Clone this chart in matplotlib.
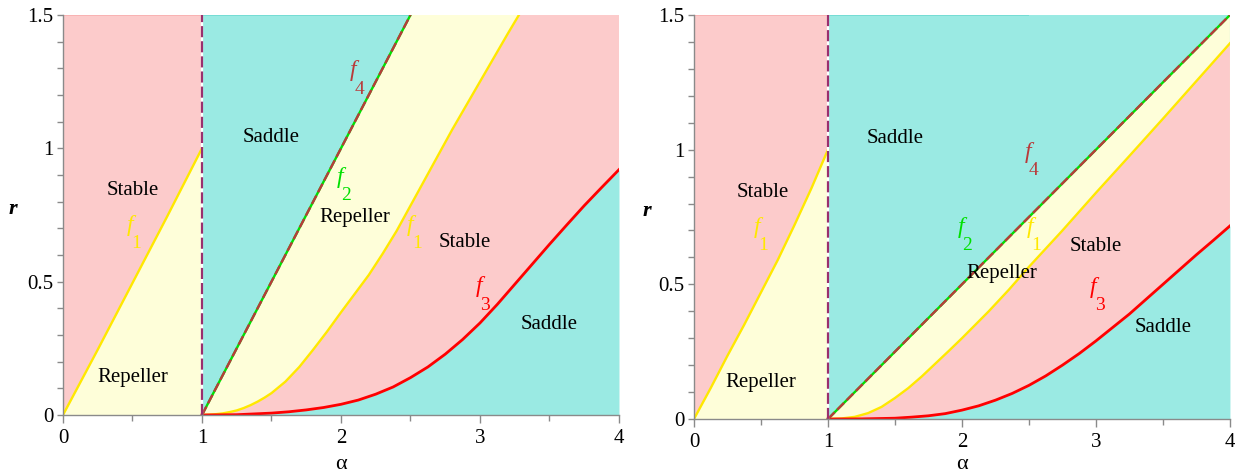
import numpy as np
import matplotlib.pyplot as plt
from matplotlib.ticker import MultipleLocator

SERIF = 'Liberation Serif'
plt.rcParams['font.family'] = SERIF

# bifurcation curves r = f(alpha), first case
left_f1_lo_a = [0, 0.25, 0.5, 0.75, 1.0]
left_f1_lo_r = [0, 0.245, 0.495, 0.745, 1.0]
left_f1_hi_a = [1.0, 1.05, 1.1, 1.15, 1.2, 1.25, 1.3, 1.35, 1.4, 1.45, 1.5, 1.6, 1.7, 1.8, 1.9,
                2.0, 2.1, 2.2, 2.3, 2.4, 2.5, 2.6, 2.7, 2.8, 2.9, 3.0, 3.1, 3.2, 3.28]
left_f1_hi_r = [0, 0.001, 0.003, 0.006, 0.011, 0.017, 0.026, 0.037, 0.05, 0.065, 0.082, 0.125, 0.18,
                0.245, 0.313, 0.385, 0.455, 0.525, 0.605, 0.69, 0.785, 0.88, 0.975, 1.07, 1.16,
                1.25, 1.34, 1.43, 1.5]
left_f2_a = [1.0, 2.5]
left_f2_r = [0, 1.5]
left_f3_a = [1.0, 1.25, 1.5, 1.625, 1.75, 1.875, 2.0, 2.125, 2.25, 2.375, 2.5, 2.625, 2.75,
             2.875, 3.0, 3.125, 3.25, 3.375, 3.5, 3.625, 3.75, 3.875, 4.0]
left_f3_r = [0, 0.001, 0.007, 0.012, 0.019, 0.028, 0.04, 0.056, 0.078, 0.105, 0.14, 0.18, 0.228,
             0.283, 0.345, 0.415, 0.49, 0.565, 0.64, 0.713, 0.785, 0.853, 0.92]

# second case
right_f1_lo_a = [0, 0.125, 0.25, 0.375, 0.5, 0.625, 0.75, 0.875, 1.0]
right_f1_lo_r = [0, 0.115, 0.235, 0.35, 0.47, 0.59, 0.72, 0.855, 1.0]
right_f1_hi_a = [1.0, 1.1, 1.2, 1.3, 1.4, 1.5, 1.6, 1.7, 1.8, 1.9, 2.0, 2.1, 2.2, 2.35, 2.5,
                 2.75, 3.0, 3.25, 3.5, 3.75, 4.0]
right_f1_hi_r = [0, 0.002, 0.008, 0.022, 0.045, 0.078, 0.115, 0.158, 0.205, 0.252, 0.3, 0.35,
                 0.40, 0.48, 0.565, 0.70, 0.84, 0.977, 1.115, 1.255, 1.395]
right_f2_a = [1.0, 4.0]
right_f2_r = [0, 1.5]
right_f3_a = [1.0, 1.25, 1.5, 1.625, 1.75, 1.875, 2.0, 2.125, 2.25, 2.375, 2.5, 2.625, 2.75,
              2.875, 3.0, 3.125, 3.25, 3.375, 3.5, 3.625, 3.75, 3.875, 4.0]
right_f3_r = [0, 0.0005, 0.003, 0.007, 0.012, 0.02, 0.033, 0.049, 0.07, 0.095, 0.125, 0.16, 0.2,
              0.243, 0.29, 0.34, 0.39, 0.445, 0.5, 0.555, 0.61, 0.663, 0.717]

A_MAX = 4.0
R_MAX = 1.5
A_SPLIT = 1.0

PINK = '#FCCBCB'
CYAN = '#9AEAE3'
PALE = '#FEFED9'
YEL = '#FFE800'
RED = '#FF0000'
GRN = '#00E000'
BRN = '#B83A3A'
PURP = '#9A2F6E'
AXC = '#8A8A8A'


def draw_panel(ax, f1_lo_a, f1_lo_r, f1_hi_a, f1_hi_r, f2_a, f2_r, f3_a, f3_r):
    # regions, layered from back to front
    ax.fill_between([0, A_SPLIT], 0, R_MAX, color=PINK, lw=0)
    ax.fill_between([A_SPLIT, A_MAX], 0, R_MAX, color=CYAN, lw=0)
    ax.fill_between(f1_lo_a, 0, f1_lo_r, color=PALE, lw=0)
    ax.fill(f2_a + [A_MAX, A_MAX], f2_r + [f2_r[-1], 0], color=PALE, lw=0)
    ax.fill(f1_hi_a + [A_MAX, A_MAX], f1_hi_r + [f1_hi_r[-1], 0], color=PINK, lw=0)
    ax.fill_between(f3_a, 0, f3_r, color=CYAN, lw=0)

    ax.hlines(R_MAX, 0, A_SPLIT, color='#F8AFAF', lw=1.2)
    ax.hlines(R_MAX, A_SPLIT, 2.5, color='#6FDAD2', lw=1.2)

    # boundary curves
    ax.plot(f1_lo_a, f1_lo_r, color=YEL, lw=1.7)
    ax.plot(f1_hi_a, f1_hi_r, color=YEL, lw=1.7)
    ax.plot(f3_a, f3_r, color=RED, lw=2.0)
    ax.plot(f2_a, f2_r, color=GRN, lw=1.7)
    ax.plot(f2_a, f2_r, color=BRN, lw=1.7, dashes=(4, 1.6))
    ax.vlines(A_SPLIT, 0, R_MAX, color='white', lw=1.6)
    ax.vlines(A_SPLIT, 0, R_MAX, color=PURP, lw=1.6, linestyles=(0, (5, 1.8)))

    ax.set_xlim(0, A_MAX)
    ax.set_ylim(0, R_MAX)
    ax.set_xticks([0, 1, 2, 3, 4])
    ax.set_xticklabels(['0', '1', '2', '3', '4'], family=SERIF, fontsize=15)
    ax.set_yticks([0, 0.5, 1, 1.5])
    ax.set_yticklabels(['0', '0.5', '1', '1.5'], family=SERIF, fontsize=15)
    ax.xaxis.set_minor_locator(MultipleLocator(0.5))
    ax.yaxis.set_minor_locator(MultipleLocator(0.1))
    ax.tick_params(which='both', colors=AXC, labelcolor='black', width=1)
    ax.tick_params(axis='x', which='major', length=6, pad=4)
    ax.tick_params(axis='x', which='minor', length=4)
    ax.tick_params(axis='y', which='both', length=4, pad=3)
    for s in ['top', 'right']:
        ax.spines[s].set_visible(False)
    for s in ['left', 'bottom']:
        ax.spines[s].set_color(AXC)
        ax.spines[s].set_linewidth(1)
    ax.set_xlabel('α', fontsize=16, family=SERIF)
    ax.set_ylabel('r', fontsize=16, rotation=0, fontstyle='italic', fontweight='bold', family=SERIF)


def flabel(ax, x, y, num, color):
    # italic f with its index set lower right
    ax.text(x, y, 'f', fontsize=17, fontstyle='italic', color=color, ha='center', va='center',
            family=SERIF)
    ax.annotate(num, (x, y), xytext=(4.5, -13), textcoords='offset points', fontsize=14,
                color=color, ha='center', va='center', family=SERIF)


def region(ax, x, y, name):
    ax.text(x, y, name, fontsize=15, ha='center', va='center', family=SERIF)


fig = plt.figure(figsize=(12.35, 4.76), dpi=100)
ax1 = fig.add_axes([0.0510, 0.1282, 0.4502, 0.8403])
ax2 = fig.add_axes([0.5619, 0.1197, 0.4340, 0.8487])

draw_panel(ax1, left_f1_lo_a, left_f1_lo_r, left_f1_hi_a, left_f1_hi_r,
           left_f2_a, left_f2_r, left_f3_a, left_f3_r)
draw_panel(ax2, right_f1_lo_a, right_f1_lo_r, right_f1_hi_a, right_f1_hi_r,
           right_f2_a, right_f2_r, right_f3_a, right_f3_r)

ax1.xaxis.set_label_coords(0.5, -0.10)
ax1.yaxis.set_label_coords(-0.09, 0.49)
ax2.xaxis.set_label_coords(0.5, -0.09)
ax2.yaxis.set_label_coords(-0.088, 0.49)

region(ax1, 0.50, 0.84, 'Stable')
region(ax1, 1.50, 1.04, 'Saddle')
region(ax1, 0.50, 0.14, 'Repeller')
region(ax1, 2.10, 0.74, 'Repeller')
region(ax1, 2.89, 0.645, 'Stable')
region(ax1, 3.50, 0.34, 'Saddle')
flabel(ax1, 0.48, 0.71, '1', YEL)
flabel(ax1, 2.09, 1.29, '4', BRN)
flabel(ax1, 1.99, 0.89, '2', GRN)
flabel(ax1, 2.50, 0.71, '1', YEL)
flabel(ax1, 2.99, 0.48, '3', RED)

region(ax2, 0.51, 0.84, 'Stable')
region(ax2, 1.50, 1.04, 'Saddle')
region(ax2, 0.50, 0.134, 'Repeller')
region(ax2, 2.30, 0.54, 'Repeller')
region(ax2, 3.00, 0.64, 'Stable')
region(ax2, 3.50, 0.34, 'Saddle')
flabel(ax2, 0.47, 0.71, '1', YEL)
flabel(ax2, 2.49, 0.99, '4', BRN)
flabel(ax2, 1.99, 0.71, '2', GRN)
flabel(ax2, 2.51, 0.71, '1', YEL)
flabel(ax2, 2.98, 0.49, '3', RED)

fig.savefig('out.png', dpi=100)
